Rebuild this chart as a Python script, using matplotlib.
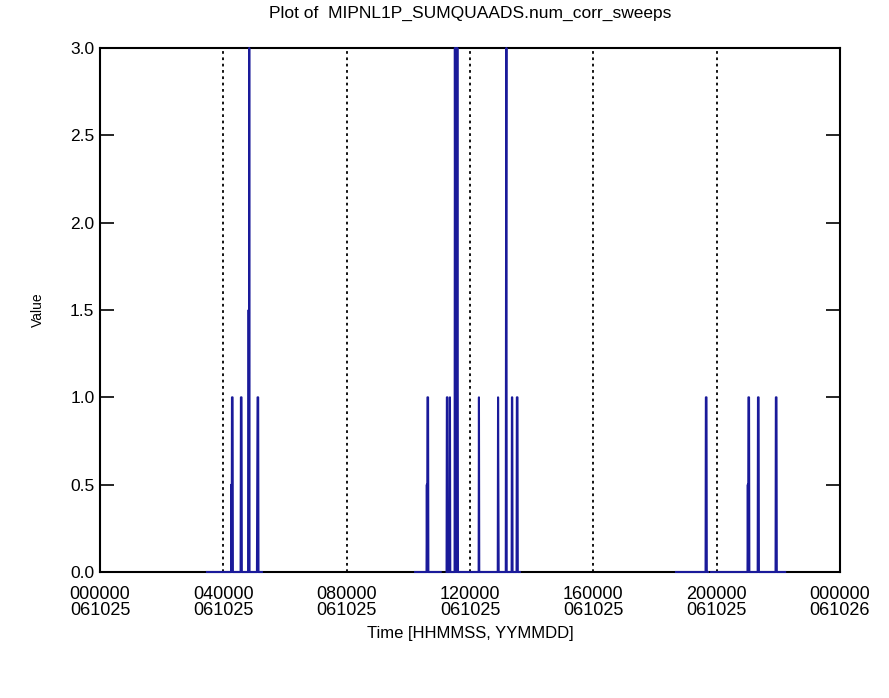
import numpy as np
import matplotlib
matplotlib.use('Agg')
import matplotlib.pyplot as plt

# time in hours after 000000 061025, nan marks a data gap
hours = [3.47, 4.25, 4.26, 4.27, 4.28, 4.30, 4.31, 4.56, 4.57, 4.59, 4.60,
         4.81, 4.82, 4.83, 4.84, 4.85, 5.09, 5.10, 5.11, 5.13, 5.14, 5.25,
         np.nan,
         10.22, 10.59, 10.60, 10.61, 10.62, 10.64, 10.65, 11.05,
         np.nan,
         11.24, 11.25, 11.27, 11.28, 11.34, 11.35, 11.36, 11.50, 11.51, 11.53,
         11.55, 11.57, 11.59, 11.61, 12.28, 12.29, 12.30, 12.90, 12.91, 12.93,
         13.16, 13.17, 13.18, 13.19, 13.35, 13.36, 13.37, 13.38, 13.51, 13.52,
         13.54, 13.55, 13.62,
         np.nan,
         18.68, 19.64, 19.65, 19.67, 19.68, 19.72,
         np.nan,
         19.82, 21.00, 21.01, 21.02, 21.03, 21.05, 21.06, 21.33, 21.34, 21.36,
         21.37, 21.91, 21.92, 21.94, 21.95, 22.22]
values = [0, 0, 0.5, 0, 1, 1, 0, 0, 1, 1, 0,
          0, 1.5, 0, 3, 0, 0, 0.5, 1, 1, 0, 0,
          np.nan,
          0, 0, 0.5, 0, 1, 1, 0, 0,
          np.nan,
          0, 1, 1, 0, 0, 1, 0, 0, 3, 0,
          3, 0, 3, 0, 0, 1, 0, 0, 1, 0,
          0, 2, 3, 0, 0, 1, 1, 0, 0, 1,
          1, 0, 0,
          np.nan,
          0, 0, 1, 1, 0, 0,
          np.nan,
          0, 0, 0.5, 0, 1, 1, 0, 0, 1, 1,
          0, 0, 1, 1, 0, 0]

tick_hours = [0, 4, 8, 12, 16, 20, 24]
tick_labels = ['000000\n061025', '040000\n061025', '080000\n061025', '120000\n061025',
               '160000\n061025', '200000\n061025', '000000\n061026']
grid_hours = [4, 8, 12, 16, 20]
y_ticks = [0.0, 0.5, 1.0, 1.5, 2.0, 2.5, 3.0]

plt.rcParams['font.family'] = ['Liberation Sans', 'DejaVu Sans']

fig = plt.figure(figsize=(8.89, 6.98), dpi=100)
ax = fig.add_axes([100/889, 1 - 572/698, 740/889, 524/698])

for h in grid_hours:
    ax.axvline(h, color='black', linestyle=(0, (1.5, 2.0)), lw=1.3)

# drawn over the frame so the zero runs show like in the original
ax.plot(hours, values, color='#1a1a9a', lw=1.5, zorder=3, clip_on=False)

ax.set_xlim(0, 24)
ax.set_ylim(0, 3)
ax.set_xticks(tick_hours)
ax.set_xticklabels(tick_labels, fontsize=13, linespacing=0.95)
ax.set_yticks(y_ticks)
ax.set_yticklabels(['%.1f' % v for v in y_ticks], fontsize=12.5)
ax.tick_params(axis='x', length=0, pad=10)
ax.tick_params(axis='y', direction='in', length=10, width=1.2, right=True, pad=4)
for s in ax.spines.values():
    s.set_linewidth(1.5)

ax.set_title('Plot of  MIPNL1P_SUMQUAADS.num_corr_sweeps', fontsize=12.5, pad=22)
ax.set_xlabel('Time [HHMMSS, YYMMDD]', fontsize=12, labelpad=5)
ax.set_ylabel('Value', fontsize=10, labelpad=18)

fig.savefig('out.png', dpi=100)
